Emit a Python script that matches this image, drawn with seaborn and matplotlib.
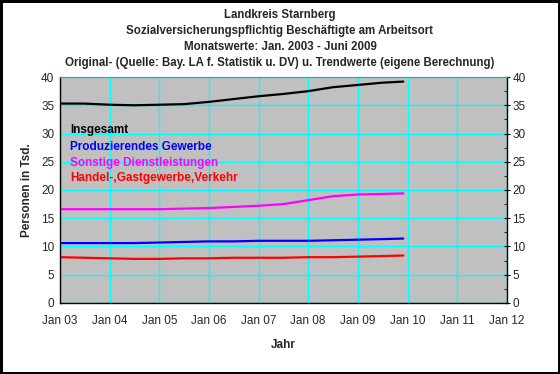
import pandas as pd
import matplotlib
matplotlib.use("Agg")
import matplotlib.pyplot as plt
import matplotlib.dates as mdates
import seaborn as sns

# Stützpunkte, halbjährlich
dates = ["2003-01", "2003-07", "2004-01", "2004-07", "2005-01", "2005-07", "2006-01",
         "2006-07", "2007-01", "2007-07", "2008-01", "2008-07", "2009-01", "2009-07", "2009-12"]
insgesamt = [35.3, 35.3, 35.1, 35.0, 35.1, 35.2, 35.6, 36.1, 36.6, 37.0, 37.5, 38.2, 38.6, 39.0, 39.2]
sonstige = [16.6, 16.6, 16.6, 16.6, 16.6, 16.7, 16.8, 17.0, 17.2, 17.5, 18.2, 18.9, 19.2, 19.3, 19.4]
produzierend = [10.6, 10.6, 10.6, 10.6, 10.7, 10.8, 10.9, 10.9, 11.0, 11.0, 11.0, 11.1, 11.2, 11.3, 11.4]
handel = [8.1, 8.0, 7.9, 7.8, 7.8, 7.9, 7.9, 8.0, 8.0, 8.0, 8.1, 8.1, 8.2, 8.3, 8.4]

series = {
    "Insgesamt": (insgesamt, "black"),
    "Produzierendes Gewerbe": (produzierend, "#0000FF"),
    "Sonstige Dienstleistungen": (sonstige, "#FF00FF"),
    "Handel-,Gastgewerbe,Verkehr": (handel, "#FF0000"),
}

rows = []
for name, (vals, _) in series.items():
    for d, v in zip(dates, vals):
        rows.append({"Datum": pd.to_datetime(d), "Wert": v, "Reihe": name})
df = pd.DataFrame(rows)

sns.set_style("white")
plt.rcParams["font.family"] = ["Liberation Sans", "DejaVu Sans"]

fig = plt.figure(figsize=(5.6, 3.74), dpi=100)
fig.patch.set_facecolor("white")
fig.patch.set_edgecolor("black")
fig.patch.set_linewidth(2.5)
ax = fig.add_axes([0.107, 0.19, 0.798, 0.604])
ax.set_facecolor("#C0C0C0")

sns.lineplot(data=df, x="Datum", y="Wert", hue="Reihe",
             palette={k: c for k, (_, c) in series.items()},
             linewidth=1.6, legend=False, ax=ax)

ax.set_xlim(pd.Timestamp("2003-01-01"), pd.Timestamp("2012-01-01"))
ax.set_ylim(0, 40)
ax.set_yticks(range(0, 41, 5))
ax.yaxis.set_minor_locator(matplotlib.ticker.MultipleLocator(2.5))
ax.xaxis.set_major_locator(mdates.YearLocator())
ax.xaxis.set_major_formatter(mdates.DateFormatter("Jan %y"))
ax.xaxis.set_minor_locator(mdates.MonthLocator())
ax.grid(True, which="major", color="#00FFFF", linewidth=1)

ax.tick_params(axis="both", which="major", labelsize=8.5, length=4, width=0.8,
               color="black", direction="inout", pad=2)
ax.tick_params(axis="x", which="major", pad=7)
ax.tick_params(axis="y", which="minor", length=2, direction="in", color="black")
ax.tick_params(axis="x", which="minor", length=2, direction="in", color="black")
ax.tick_params(axis="y", which="both", right=True, labelright=True)

for side in ["left", "right", "bottom"]:
    ax.spines[side].set_color("black")
    ax.spines[side].set_linewidth(1)
ax.spines["top"].set_color("#808080")

ax.set_xlabel("Jahr", fontsize=8.5, fontweight="bold", labelpad=8)
ax.set_ylabel("Personen in Tsd.", fontsize=8.5, fontweight="bold", labelpad=6)

ypos = [0.765, 0.69, 0.62, 0.553]
for (name, (_, c)), y in zip(series.items(), ypos):
    ax.text(0.022, y, name, color=c, fontsize=8.5, fontweight="bold",
            transform=ax.transAxes, va="center", ha="left")

titel = ("Landkreis Starnberg\n"
         "Sozialversicherungspflichtig Beschäftigte am Arbeitsort\n"
         "Monatswerte: Jan. 2003 - Juni 2009\n"
         "Original- (Quelle: Bay. LA f. Statistik u. DV) u. Trendwerte (eigene Berechnung)")
fig.text(0.5, 0.977, titel, ha="center", va="top", fontsize=8.3, fontweight="bold",
         linespacing=1.45)

fig.savefig("out.png", dpi=100, facecolor=fig.get_facecolor(), edgecolor=fig.get_edgecolor())
